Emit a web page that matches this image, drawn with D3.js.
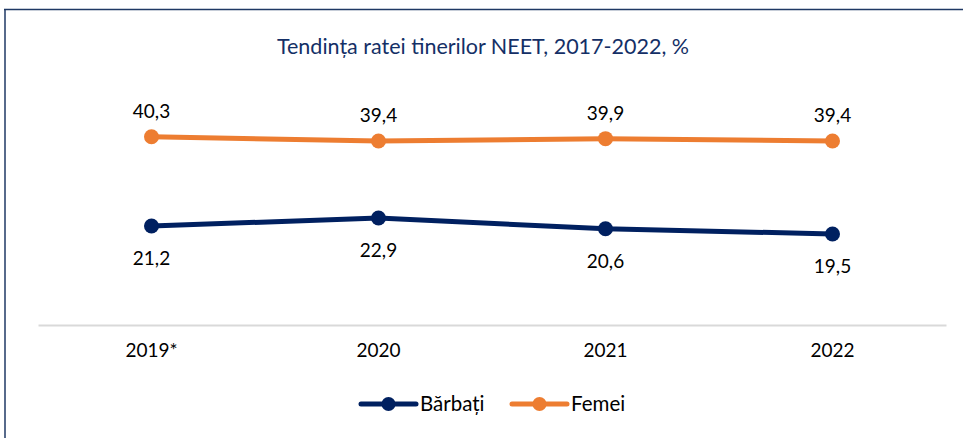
<!DOCTYPE html>
<html><head><meta charset="utf-8">
<script src="https://cdn.jsdelivr.net/npm/d3@7"></script>
<style>body{margin:0;background:#fff;} text{font-family:Lato,"Open Sans",sans-serif;}</style>
</head><body><svg id="c" width="963" height="438"></svg>
<script>
const categories = ["2019*", "2020", "2021", "2022"];
const barbati = [21.2, 22.9, 20.6, 19.5];
const femei = [40.3, 39.4, 39.9, 39.4];
const seriesNames = ["Bărbați", "Femei"];
const colors = ["#002060", "#ED7D31"];
const title = "Tendința ratei tinerilor NEET, 2017-2022, %";

const svg = d3.select("#c");
// frame
svg.append("line").attr("x1",4).attr("x2",963).attr("y1",9.5).attr("y2",9.5).attr("stroke","#1F3864").attr("stroke-width",1.5);
svg.append("line").attr("x1",5).attr("x2",5).attr("y1",9).attr("y2",438).attr("stroke","#1F3864").attr("stroke-width",1.5);

svg.append("text").attr("x",483).attr("y",54).attr("text-anchor","middle").attr("font-size",21.5).attr("fill","#142f66").text(title);

const x = d3.scaleBand().domain(categories).range([38,946]);
const y = d3.scaleLinear().domain([0,50]).range([325,91.5]);

const xAxis = svg.append("g").attr("transform","translate(0,325)").call(d3.axisBottom(x).tickSize(0).tickPadding(19));
xAxis.select(".domain").attr("stroke","#d9d9d9").attr("stroke-width",2);
xAxis.selectAll("text").attr("font-size",19).attr("fill","#000").attr("font-family","Lato");

const data = [barbati, femei];
const line = d3.line().x((d,i)=>x(categories[i])+x.bandwidth()/2).y(d=>y(d));
data.forEach((s,k)=>{
  svg.append("path").datum(s).attr("d",line).attr("fill","none").attr("stroke",colors[k]).attr("stroke-width",5).attr("stroke-linecap","round");
  svg.selectAll(null).data(s).enter().append("circle")
    .attr("cx",(d,i)=>x(categories[i])+x.bandwidth()/2).attr("cy",d=>y(d)).attr("r",7.5).attr("fill",colors[k]);
  svg.selectAll(null).data(s).enter().append("text")
    .attr("x",(d,i)=>x(categories[i])+x.bandwidth()/2)
    .attr("y",d=> k===1 ? y(d)-19 : y(d)+39)
    .attr("text-anchor","middle").attr("font-size",19).attr("fill","#000")
    .text(d=>String(d).replace(".",","));
});

// legend
const leg = [{x1:361,x2:416,tx:420},{x1:512,x2:567,tx:571}];
leg.forEach((l,k)=>{
  const g = svg.append("g");
  g.append("line").attr("x1",l.x1).attr("x2",l.x2).attr("y1",404).attr("y2",404).attr("stroke",colors[k]).attr("stroke-width",5).attr("stroke-linecap","round");
  g.append("circle").attr("cx",(l.x1+l.x2)/2).attr("cy",404).attr("r",7).attr("fill",colors[k]);
  g.append("text").attr("x",l.tx).attr("y",411).attr("font-size",20.5).attr("fill","#000").text(seriesNames[k]);
});
</script></body></html>
